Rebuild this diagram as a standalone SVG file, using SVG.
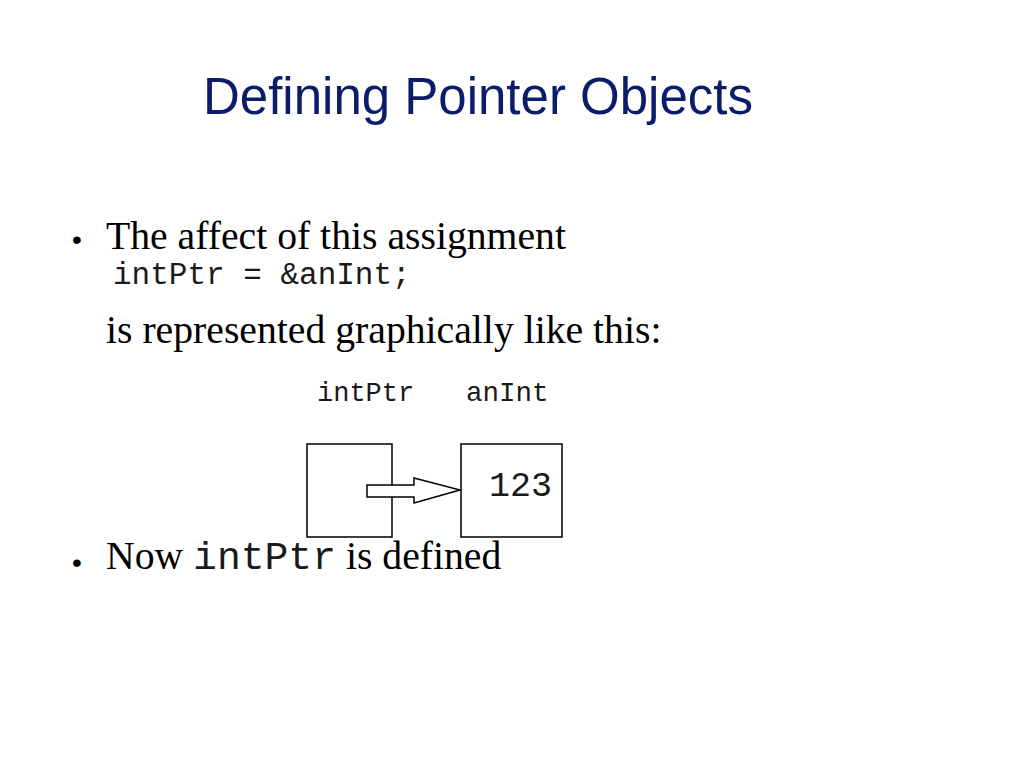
<svg xmlns="http://www.w3.org/2000/svg" width="1024" height="768" viewBox="0 0 1024 768">
<style>
.title{font-family:"Liberation Sans",Arial,sans-serif;font-size:51px;fill:#0b1c6b}
.body{font-family:"Liberation Serif","Times New Roman",serif;font-size:39.7px;fill:#000}
.mono{font-family:"Liberation Mono","Courier New",monospace;fill:#1a1a1a}
.bullet{font-family:"Liberation Sans",Arial,sans-serif;font-size:28px;fill:#000}
.box{fill:#fff;stroke:#000;stroke-width:1.5}
</style>
<rect width="1024" height="768" fill="#fff"/>
<text class="title" x="203" y="114">Defining Pointer Objects</text>
<text class="bullet" x="72" y="249">•</text>
<text class="body" x="106" y="249">The affect of this assignment</text>
<text class="mono" x="113" y="284" font-size="31">intPtr = &amp;anInt;</text>
<text class="body" x="106" y="343">is represented graphically like this:</text>
<text class="mono" x="317" y="401" font-size="27">intPtr</text>
<text class="mono" x="466" y="401" font-size="27.5">anInt</text>
<g id="intPtr">
<rect class="box" x="307" y="444" width="85" height="93"/>
</g>
<g id="anInt">
<rect class="box" x="461" y="444" width="101" height="93"/>
<text class="mono" x="489" y="496" font-size="35">123</text>
</g>
<g id="connectors">
<polygon points="367,485 414,485 414,478 460,490 414,503 414,497 367,497" fill="#fff" stroke="#000" stroke-width="1.5"/>
</g>
<text class="bullet" x="72" y="572">•</text>
<text class="body" x="106" y="569">Now <tspan class="mono">intPtr</tspan> is defined</text>
</svg>
